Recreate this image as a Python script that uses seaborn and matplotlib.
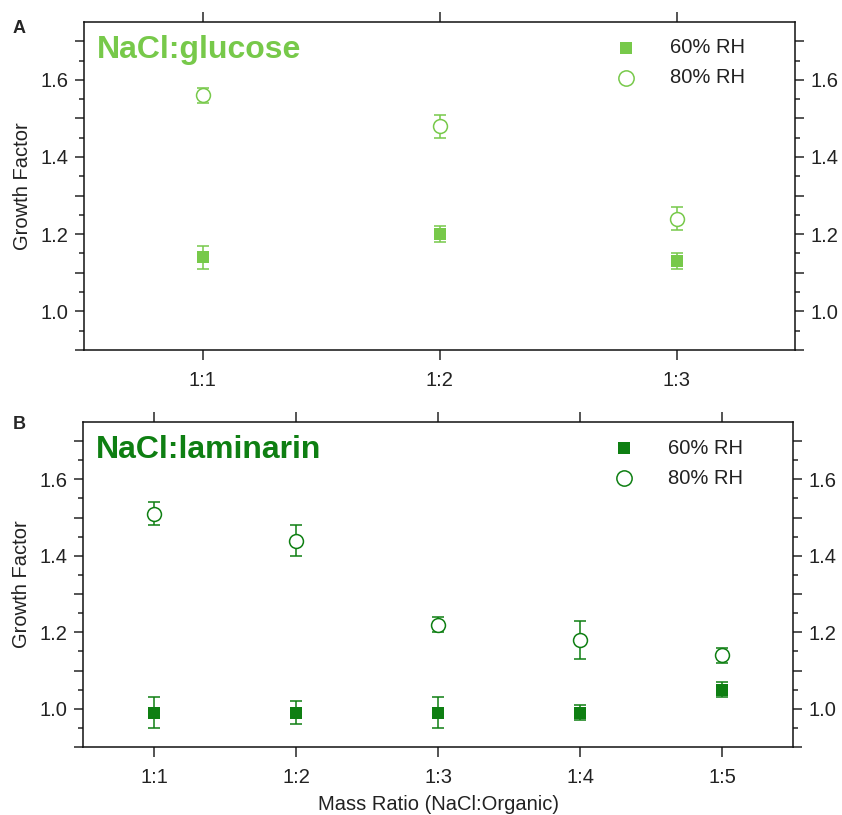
import numpy as np
import pandas as pd
import seaborn as sns
import matplotlib
matplotlib.use("Agg")
from matplotlib import pyplot as plt
from matplotlib.ticker import FixedLocator, FuncFormatter


# panel A: NaCl:glucose
glucose_ratios = ["1:1", "1:2", "1:3"]
glucose_gf60 = [1.14, 1.20, 1.13]
glucose_err60 = [0.03, 0.02, 0.02]
glucose_gf80 = [1.56, 1.48, 1.24]
glucose_err80 = [0.02, 0.03, 0.03]

# panel B: NaCl:laminarin
lam_ratios = ["1:1", "1:2", "1:3", "1:4", "1:5"]
lam_gf60 = [0.99, 0.99, 0.99, 0.99, 1.05]
lam_err60 = [0.04, 0.03, 0.04, 0.02, 0.02]
lam_gf80 = [1.51, 1.44, 1.22, 1.18, 1.14]
lam_err80 = [0.03, 0.04, 0.02, 0.05, 0.02]

light_green = "#77c94a"
dark_green = "#0e7f12"

sns.set_style("white")
plt.rcParams['font.family'] = ['Liberation Sans', 'DejaVu Sans']
plt.rcParams['axes.linewidth'] = 1.1


def make_df(ratios, gf60, err60, gf80, err80):
    df = pd.DataFrame({
        "ratio": ratios * 2,
        "gf": gf60 + gf80,
        "err": err60 + err80,
        "rh": ["60% RH"] * len(ratios) + ["80% RH"] * len(ratios),
    })
    return df


def draw_panel(ax, df, color, title):
    n = df["ratio"].nunique()
    pos = {r: i for i, r in enumerate(pd.unique(df["ratio"]))}
    for rh in ["60% RH", "80% RH"]:
        sub = df[df["rh"] == rh]
        x = sub["ratio"].map(pos)
        ax.errorbar(x, sub["gf"], yerr=sub["err"], fmt="none", ecolor=color,
                    elinewidth=1.1, capsize=4, capthick=1.1, zorder=2)
    sub60 = df[df["rh"] == "60% RH"]
    sub80 = df[df["rh"] == "80% RH"]
    sns.scatterplot(data=sub60, x="ratio", y="gf", ax=ax, marker="s", s=68,
                    color=color, edgecolor=color, linewidth=0, label="60% RH", zorder=3)
    sns.scatterplot(data=sub80, x="ratio", y="gf", ax=ax, marker="o", s=100,
                    facecolor="white", edgecolor=color, linewidth=1.1,
                    label="80% RH", zorder=3)
    ax.set_xlim(-0.5, n - 0.5)
    ax.set_ylim(0.9, 1.75)
    ax.set_xlabel("")
    ax.set_ylabel("Growth Factor", fontsize=14.5, color="#222222", labelpad=6)

    major = [0.9, 1.0, 1.1, 1.2, 1.3, 1.4, 1.5, 1.6, 1.7]
    ax.yaxis.set_major_locator(FixedLocator(major))
    ax.yaxis.set_minor_locator(FixedLocator(np.arange(0.95, 1.75, 0.1)))
    ax.yaxis.set_major_formatter(FuncFormatter(
        lambda v, p: f"{v:.1f}" if round(v * 10) % 2 == 0 and v > 0.95 else ""))

    ax.tick_params(axis="y", which="major", direction="out", length=6.5, width=1.1,
                   left=True, right=True, labelleft=True, labelright=True,
                   labelsize=14.5, labelcolor="#222222", pad=5)
    ax.tick_params(axis="y", which="minor", direction="out", length=3.5, width=1.1,
                   left=True, right=True)
    ax.tick_params(axis="x", which="major", direction="out", length=7, width=1.1,
                   bottom=True, top=True, labelbottom=True, labeltop=False,
                   labelsize=14.5, labelcolor="#222222", pad=8)
    for s in ax.spines.values():
        s.set_visible(True)
        s.set_color("#111111")

    ax.text(0.018, 0.89, title, transform=ax.transAxes, color=color,
            fontsize=23, fontweight="bold", va="baseline", ha="left")
    leg = ax.legend(loc="upper right", bbox_to_anchor=(0.955, 1.005), frameon=False,
                    fontsize=14.5, handletextpad=1.2, labelspacing=0.55,
                    markerscale=1.1)
    for t in leg.get_texts():
        t.set_color("#222222")


fig = plt.figure(figsize=(8.42, 8.15), dpi=100)
ax_a = fig.add_axes([0.0998, 0.5706, 0.8444, 0.4025])
ax_b = fig.add_axes([0.0986, 0.0834, 0.8432, 0.3988])

draw_panel(ax_a, make_df(glucose_ratios, glucose_gf60, glucose_err60, glucose_gf80, glucose_err80),
           light_green, "NaCl:glucose")
draw_panel(ax_b, make_df(lam_ratios, lam_gf60, lam_err60, lam_gf80, lam_err80),
           dark_green, "NaCl:laminarin")

ax_b.set_xlabel("Mass Ratio (NaCl:Organic)", fontsize=14.5, color="#222222", labelpad=6)

fig.text(0.0154, 0.9595, "A", fontsize=13, fontweight="bold", va="baseline")
fig.text(0.0154, 0.4736, "B", fontsize=13, fontweight="bold", va="baseline")

fig.savefig("out.png", dpi=100)
